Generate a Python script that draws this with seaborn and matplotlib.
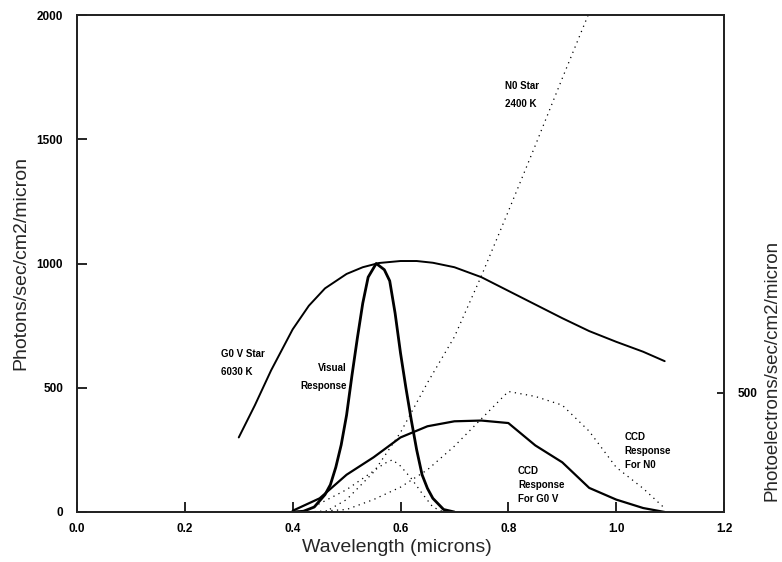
import matplotlib
matplotlib.use("Agg")
import matplotlib.pyplot as plt
import seaborn as sns
import pandas as pd

# ---- data ----
g0v_x = [0.30, 0.33, 0.36, 0.40, 0.43, 0.46, 0.50, 0.53, 0.56, 0.60, 0.63, 0.66, 0.70,
         0.75, 0.80, 0.85, 0.90, 0.95, 1.00, 1.05, 1.09]
g0v_y = [300, 430, 570, 735, 830, 900, 958, 985, 1002, 1010, 1010, 1003, 985,
         945, 890, 835, 780, 728, 685, 645, 607]

vis_x = [0.40, 0.42, 0.44, 0.46, 0.47, 0.48, 0.49, 0.50, 0.51, 0.52, 0.53, 0.54, 0.555,
         0.57, 0.58, 0.59, 0.60, 0.61, 0.62, 0.63, 0.64, 0.65, 0.66, 0.68, 0.70]
vis_y = [0, 3, 20, 70, 110, 180, 270, 390, 550, 700, 840, 945, 1000,
         975, 930, 800, 640, 500, 370, 250, 150, 95, 55, 10, 0]

ccd_g0v_x = [0.40, 0.45, 0.50, 0.55, 0.60, 0.65, 0.70, 0.75, 0.80, 0.85, 0.90, 0.95, 1.00, 1.05, 1.09]
ccd_g0v_y = [5, 55, 150, 220, 300, 345, 365, 368, 358, 268, 200, 97, 50, 16, 0]

n0_x = [0.46, 0.50, 0.55, 0.60, 0.65, 0.70, 0.75, 0.80, 0.85, 0.90, 0.95]
n0_y = [0, 50, 160, 320, 520, 705, 950, 1210, 1475, 1745, 2010]

bump_x = [0.42, 0.46, 0.50, 0.54, 0.57, 0.585, 0.60, 0.62, 0.64, 0.66, 0.68]
bump_y = [0, 45, 90, 150, 195, 210, 185, 135, 75, 20, 0]

ccd_n0_x = [0.43, 0.50, 0.55, 0.60, 0.65, 0.70, 0.75, 0.80, 0.85, 0.90, 0.95, 1.00, 1.05, 1.09]
ccd_n0_y = [0, 10, 50, 100, 170, 265, 375, 485, 465, 430, 325, 180, 95, 15]

x_ticks = [0.0, 0.2, 0.4, 0.6, 0.8, 1.0, 1.2]
x_tick_labels = ["0.0", "0.2", "0.4", "0.6", "0.8", "1.0", "1.2"]
y_ticks = [0, 500, 1000, 1500, 2000]
y_tick_labels = ["0", "500", "1000", "1500", "2000"]
right_ticks = [500]
right_tick_labels = ["500"]

sns.set_theme(style="ticks")
plt.rcParams['font.family'] = ['Liberation Sans', 'DejaVu Sans']

fig = plt.figure(figsize=(7.82, 5.62), dpi=100)
ax = fig.add_axes([77/782, 50/562, 647/782, 497/562])

def draw(x, y, **kw):
    sns.lineplot(data=pd.DataFrame({"x": x, "y": y}), x="x", y="y", ax=ax,
                 color="black", sort=False, estimator=None, **kw)

draw(g0v_x, g0v_y, linewidth=1.4)
draw(vis_x, vis_y, linewidth=2.0)
draw(ccd_g0v_x, ccd_g0v_y, linewidth=1.6)
draw(n0_x, n0_y, linewidth=0.9, linestyle=(0, (1, 3.5)))
draw(bump_x, bump_y, linewidth=0.9, linestyle=(0, (1, 3.5)))
draw(ccd_n0_x, ccd_n0_y, linewidth=0.9, linestyle=(0, (1, 3.5)))

ax.set_xlim(0, 1.2)
ax.set_ylim(0, 2000)
ax.set_xticks(x_ticks)
ax.set_xticklabels(x_tick_labels)
ax.set_yticks(y_ticks)
ax.set_yticklabels(y_tick_labels)
ax.tick_params(direction="in", length=7, width=1.2, labelsize=8.5, colors="black")
ax.tick_params(axis="x", pad=8)
ax.tick_params(axis="y", pad=10)
for lab in ax.get_xticklabels() + ax.get_yticklabels():
    lab.set_fontweight("bold")
for s in ax.spines.values():
    s.set_visible(True)
    s.set_color("black")
    s.set_linewidth(1.3)

ax.set_xlabel("")
ax.set_ylabel("")
fig.text(397/782, 1 - 548/562, "Wavelength (microns)", fontsize=14,
         ha="center", va="center")
fig.text(21/782, 1 - 263/562, "Photons/sec/cm2/micron", fontsize=14,
         rotation=90, ha="center", va="center")

# right axis
ax2 = ax.twinx()
ax2.set_ylim(0, 2088)
ax2.set_yticks(right_ticks)
ax2.set_yticklabels(right_tick_labels)
ax2.tick_params(direction="in", length=5, width=1.2, labelsize=8.5, pad=10, colors="black")
for lab in ax2.get_yticklabels():
    lab.set_fontweight("bold")
ax2.set_ylabel("")
fig.text(772/782, 1 - 370/562, "Photoelectrons/sec/cm2/micron", fontsize=13.5,
         rotation=90, ha="center", va="center")

# annotations
tk = dict(fontsize=7, fontweight="bold", color="black", linespacing=2.0)
ax.text(0.267, 600, "G0 V Star\n6030 K", ha="left", va="center", **tk)
ax.text(0.50, 545, "Visual\nResponse", ha="right", va="center", multialignment="right", **tk)
ax.text(0.794, 1680, "N0 Star\n2400 K", ha="left", va="center", **tk)
ax.text(1.016, 245, "CCD\nResponse\nFor N0", ha="left", va="center", linespacing=1.5,
        fontsize=7, fontweight="bold", color="black")
ax.text(0.818, 108, "CCD\nResponse\nFor G0 V", ha="left", va="center", linespacing=1.5,
        fontsize=7, fontweight="bold", color="black")

fig.savefig("out.png", dpi=100, facecolor="white")
